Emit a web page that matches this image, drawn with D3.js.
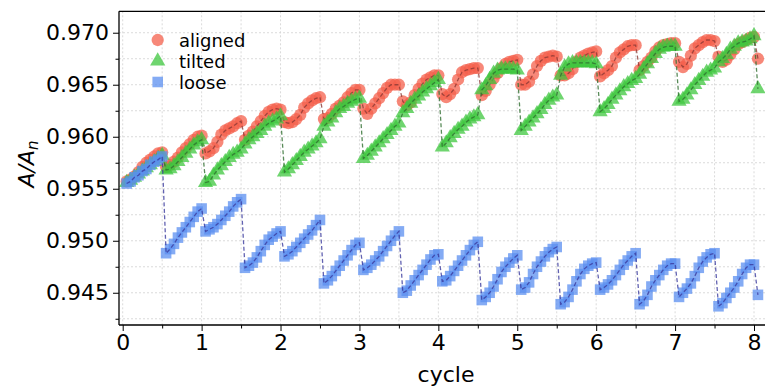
<!DOCTYPE html>
<html><head><meta charset="utf-8">
<script src="https://cdn.jsdelivr.net/npm/d3@7"></script>
<style>body{margin:0;background:#fff}svg{display:block}text{font-family:"DejaVu Sans",sans-serif;fill:#000}</style>
</head><body><svg id="c" width="765" height="387"></svg>
<script>
// cycle positions: 0.05 ... 8.05 step 0.05 (161 samples)
const cycles = d3.range(1, 162).map(k => +(k * 0.05).toFixed(2));
const xTicks = [0,1,2,3,4,5,6,7,8];
const yTicks = [0.945,0.950,0.955,0.960,0.965,0.970];
const seriesNames = ["aligned","tilted","loose"];

const aligned = [
 0.9557,0.9559,0.9562,0.9566,0.9571,0.9575,0.9578,0.9581,0.9584,0.9585,
 0.9571,0.9573,0.9576,0.9580,0.9585,0.9589,0.9593,0.9597,0.9600,0.9601,
 0.9584,0.9586,0.9589,0.9595,0.9602,0.9606,0.9608,0.9610,0.9613,0.9615,
 0.9597,0.9601,0.9605,0.9610,0.9615,0.9620,0.9624,0.9626,0.9627,0.9626,
 0.9614,0.9613,0.9614,0.9617,0.9621,0.9628,0.9632,0.9635,0.9637,0.9638,
 0.9617,0.9618,0.9622,0.9627,0.9630,0.9633,0.9638,0.9642,0.9645,0.9645,
 0.9627,0.9622,0.9627,0.9632,0.9637,0.9642,0.9647,0.9650,0.9650,0.9650,
 0.9634,0.9630,0.9633,0.9640,0.9646,0.9651,0.9655,0.9657,0.9659,0.9659,
 0.9641,0.9638,0.9641,0.9646,0.9655,0.9662,0.9664,0.9665,0.9666,0.9666,
 0.9640,0.9644,0.9650,0.9656,0.9661,0.9666,0.9670,0.9672,0.9673,0.9674,
 0.9650,0.9650,0.9653,0.9660,0.9668,0.9673,0.9676,0.9677,0.9678,0.9677,
 0.9659,0.9659,0.9661,0.9665,0.9672,0.9676,0.9678,0.9680,0.9681,0.9682,
 0.9658,0.9661,0.9664,0.9668,0.9676,0.9681,0.9684,0.9687,0.9688,0.9688,
 0.9664,0.9668,0.9672,0.9676,0.9682,0.9686,0.9688,0.9689,0.9690,0.9690,
 0.9672,0.9667,0.9670,0.9678,0.9685,0.9688,0.9691,0.9693,0.9693,0.9692,
 0.9677,0.9672,0.9674,0.9679,0.9684,0.9689,0.9691,0.9693,0.9695,0.9696,
 0.9675];

const tilted = [
 0.9556,0.9558,0.9561,0.9564,0.9567,0.9570,0.9573,0.9576,0.9579,0.9582,
 0.9568,0.9569,0.9572,0.9576,0.9580,0.9584,0.9588,0.9592,0.9595,0.9597,
 0.9556,0.9557,0.9563,0.9568,0.9572,0.9576,0.9580,0.9583,0.9585,0.9588,
 0.9593,0.9597,0.9600,0.9603,0.9606,0.9610,0.9613,0.9615,0.9617,0.9620,
 0.9566,0.9569,0.9573,0.9577,0.9581,0.9585,0.9588,0.9591,0.9594,0.9598,
 0.9610,0.9614,0.9618,0.9623,0.9627,0.9629,0.9632,0.9634,0.9636,0.9637,
 0.9579,0.9582,0.9586,0.9590,0.9594,0.9598,0.9602,0.9606,0.9610,0.9613,
 0.9623,0.9627,0.9632,0.9636,0.9639,0.9643,0.9646,0.9649,0.9652,0.9655,
 0.9590,0.9594,0.9599,0.9603,0.9607,0.9610,0.9614,0.9617,0.9619,0.9621,
 0.9645,0.9649,0.9655,0.9661,0.9664,0.9665,0.9665,0.9665,0.9665,0.9664,
 0.9606,0.9610,0.9614,0.9618,0.9622,0.9626,0.9631,0.9635,0.9638,0.9640,
 0.9659,0.9667,0.9670,0.9671,0.9671,0.9671,0.9671,0.9671,0.9671,0.9670,
 0.9624,0.9627,0.9631,0.9636,0.9640,0.9644,0.9648,0.9651,0.9654,0.9656,
 0.9660,0.9665,0.9670,0.9675,0.9680,0.9684,0.9686,0.9687,0.9687,0.9687,
 0.9634,0.9636,0.9640,0.9645,0.9650,0.9654,0.9658,0.9662,0.9664,0.9666,
 0.9672,0.9675,0.9679,0.9684,0.9687,0.9690,0.9691,0.9692,0.9694,0.9697,
 0.9646];

const loose = [
 0.9555,0.9557,0.9561,0.9563,0.9567,0.9569,0.9573,0.9576,0.9578,0.9581,
 0.9488,0.9492,0.9497,0.9503,0.9508,0.9513,0.9518,0.9523,0.9528,0.9531,
 0.9509,0.9511,0.9513,0.9516,0.9520,0.9524,0.9528,0.9533,0.9537,0.9540,
 0.9474,0.9476,0.9479,0.9484,0.9490,0.9496,0.9501,0.9504,0.9507,0.9509,
 0.9485,0.9487,0.9490,0.9494,0.9498,0.9502,0.9506,0.9510,0.9515,0.9520,
 0.9459,0.9462,0.9466,0.9471,0.9476,0.9481,0.9486,0.9491,0.9496,0.9498,
 0.9472,0.9474,0.9477,0.9481,0.9485,0.9490,0.9495,0.9500,0.9505,0.9509,
 0.9450,0.9452,0.9457,0.9462,0.9467,0.9472,0.9477,0.9482,0.9486,0.9487,
 0.9461,0.9462,0.9466,0.9471,0.9476,0.9481,0.9486,0.9491,0.9496,0.9499,
 0.9443,0.9446,0.9450,0.9456,0.9463,0.9470,0.9475,0.9479,0.9483,0.9486,
 0.9453,0.9455,0.9460,0.9468,0.9475,0.9480,0.9485,0.9489,0.9492,0.9494,
 0.9439,0.9441,0.9446,0.9453,0.9461,0.9468,0.9473,0.9476,0.9478,0.9479,
 0.9453,0.9455,0.9458,0.9462,0.9467,0.9472,0.9477,0.9481,0.9485,0.9488,
 0.9439,0.9442,0.9448,0.9456,0.9462,0.9467,0.9472,0.9476,0.9478,0.9478,
 0.9446,0.9450,0.9454,0.9459,0.9466,0.9474,0.9480,0.9484,0.9487,0.9488,
 0.9437,0.9440,0.9445,0.9450,0.9455,0.9461,0.9468,0.9474,0.9477,0.9477,
 0.9448];

const svg = d3.select("#c");
const L = 119, T = 11.3, B = 325;
const x = d3.scaleLinear().domain([0, 8]).range([122.7, 754]);
const y = d3.scaleLinear().domain([0.94190, 0.97206]).range([B, T]);
const Rr = 770;

// grid
const g = svg.append("g");
const yGrid = d3.range(0, 13).map(i => 0.9425 + i * 0.0025).filter(v => v < 0.972);
g.selectAll(".hg").data(yGrid).join("line")
  .attr("x1", L).attr("x2", Rr).attr("y1", d => y(d)).attr("y2", d => y(d))
  .attr("stroke", "#d6d6d6").attr("stroke-width", 0.9).attr("stroke-dasharray", "2,2");
const xGrid = d3.range(0, 17).map(i => i * 0.5);
g.selectAll(".vg").data(xGrid).join("line")
  .attr("y1", T).attr("y2", B).attr("x1", d => x(d)).attr("x2", d => x(d))
  .attr("stroke", "#d6d6d6").attr("stroke-width", 0.9).attr("stroke-dasharray", "2,2");

const series = [
  {name: "aligned", vals: aligned, fill: "#f4604c", line: "#8c3a34", shape: d3.symbolCircle, size: 118},
  {name: "tilted", vals: tilted, fill: "#3fc73f", line: "#2f6e2f", shape: d3.symbolTriangle, size: 100},
  {name: "loose", vals: loose, fill: "#5b8ff0", line: "#3b3b9e", shape: d3.symbolSquare, size: 112}
];

series.forEach(s => {
  const data = cycles.map((c, i) => [c, s.vals[i]]);
  const gs = svg.append("g");
  gs.selectAll("path.m").data(data).join("path")
    .attr("d", d3.symbol().type(s.shape).size(s.size))
    .attr("transform", d => `translate(${x(d[0])},${y(d[1])})`)
    .attr("fill", s.fill).attr("fill-opacity", 0.75);
  gs.append("path").datum(data)
    .attr("d", d3.line().x(d => x(d[0])).y(d => y(d[1])))
    .attr("fill", "none").attr("stroke", s.line).attr("stroke-width", 1.3)
    .attr("stroke-opacity", 0.8).attr("stroke-dasharray", "4,2.5");
});

// axes
const xAxis = d3.axisBottom(x).tickValues(xTicks).tickFormat(d3.format("d")).tickSize(6).tickPadding(3);
const xa = svg.append("g").attr("transform", `translate(0,${B})`).call(xAxis);
const xMinor = svg.append("g").attr("transform", `translate(0,${B})`)
  .call(d3.axisBottom(x).tickValues(d3.range(0, 8).map(i => i + 0.5)).tickSize(3.5).tickFormat(""));
const yAxis = d3.axisLeft(y).tickValues(yTicks).tickFormat(d3.format(".3f")).tickSize(6).tickPadding(4);
const ya = svg.append("g").attr("transform", `translate(${L},0)`).call(yAxis);
const yMinor = svg.append("g").attr("transform", `translate(${L},0)`)
  .call(d3.axisLeft(y).tickValues([0.9425,0.9475,0.9525,0.9575,0.9625,0.9675]).tickSize(3.5).tickFormat(""));
[xa, xMinor, ya, yMinor].forEach(a => {
  a.select(".domain").remove();
  a.selectAll(".tick line").attr("stroke", "#000").attr("stroke-width", 1);
});
xa.selectAll("text").attr("font-size", 22).attr("font-family", "DejaVu Sans").attr("fill", "#000");
ya.selectAll("text").attr("font-size", 22).attr("font-family", "DejaVu Sans").attr("fill", "#000");

// spines
svg.append("line").attr("x1", L).attr("x2", L).attr("y1", T).attr("y2", B).attr("stroke", "#000").attr("stroke-width", 1.3);
svg.append("line").attr("x1", L).attr("x2", Rr).attr("y1", B).attr("y2", B).attr("stroke", "#000").attr("stroke-width", 1.3);
svg.append("line").attr("x1", L).attr("x2", Rr).attr("y1", T).attr("y2", T).attr("stroke", "#000").attr("stroke-width", 1.3);

// labels
svg.append("text").attr("x", 446).attr("y", 382).attr("text-anchor", "middle").attr("font-size", 22).text("cycle");
const yl = svg.append("text").attr("transform", "translate(34,164) rotate(-90)").attr("text-anchor", "middle").attr("font-size", 22);
yl.append("tspan").attr("font-style", "italic").text("A/A");
yl.append("tspan").attr("font-style", "italic").attr("font-size", 15).attr("dy", 4).text("n");

// legend
const lg = svg.append("g");
series.forEach((s, i) => {
  const cy = 40 + i * 21;
  lg.append("path").attr("d", d3.symbol().type(s.shape).size(s.size)())
    .attr("transform", `translate(157.7,${cy})`).attr("fill", s.fill).attr("fill-opacity", 0.75);
  lg.append("text").attr("x", 179).attr("y", cy + 6.5).attr("font-size", 18).text(s.name);
});
</script></body></html>
